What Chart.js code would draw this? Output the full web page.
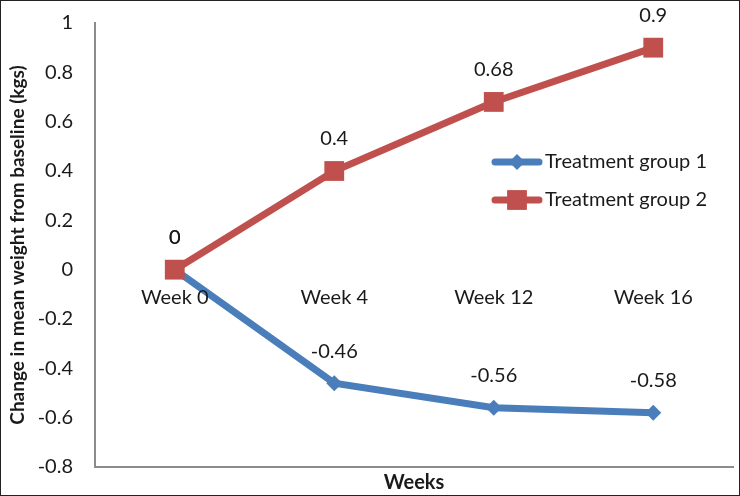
<!DOCTYPE html>
<html>
<head>
<meta charset="utf-8">
<script src="https://cdn.jsdelivr.net/npm/chart.js@4"></script>
<style>
  html, body { margin: 0; padding: 0; background: #fff; }
  #wrap { position: relative; width: 740px; height: 496px; box-sizing: border-box; border: 1px solid #222; }
</style>
</head>
<body>
<div id="wrap"><canvas id="chart"></canvas></div>
<script>
// Chart data
const weeks = ['Week 0', 'Week 4', 'Week 12', 'Week 16'];
const group1 = [0, -0.46, -0.56, -0.58];
const group2 = [0, 0.4, 0.68, 0.9];
const seriesNames = ['Treatment group 1', 'Treatment group 2'];
const yMin = -0.8, yMax = 1, yStep = 0.2;

const BLUE = '#4a7ebb';
const RED = '#c0504d';
const TEXT = '#1a1a1a';
const FONT = 'Lato, "Open Sans", sans-serif';

// Category labels sit just under the zero line, plus value labels and legend
const overlayPlugin = {
  id: 'overlay',
  afterDatasetsDraw(chart) {
    const { ctx, scales: { x, y } } = chart;
    ctx.save();
    ctx.fillStyle = TEXT;
    ctx.font = '20px ' + FONT;
    ctx.textAlign = 'center';
    ctx.textBaseline = 'middle';

    // week labels
    const zeroY = y.getPixelForValue(0);
    weeks.forEach((w, i) => {
      ctx.fillText(w, x.getPixelForValue(i), zeroY + 28);
    });

    // value labels
    chart.data.datasets.forEach((ds, di) => {
      const meta = chart.getDatasetMeta(di);
      meta.data.forEach((pt, i) => {
        ctx.fillText(String(ds.data[i]), pt.x, pt.y - 32);
      });
    });

    // legend
    const items = [
      { name: seriesNames[0], color: BLUE, style: 'rectRot', r: 8, y: 161 },
      { name: seriesNames[1], color: RED, style: 'rect', r: 14, y: 199 },
    ];
    items.forEach((it) => {
      ctx.strokeStyle = it.color;
      ctx.lineWidth = 7;
      ctx.lineCap = 'round';
      ctx.beginPath();
      ctx.moveTo(494, it.y);
      ctx.lineTo(538, it.y);
      ctx.stroke();
      ctx.fillStyle = it.color;
      Chart.helpers.drawPoint(ctx, { pointStyle: it.style, radius: it.r, borderWidth: 0 }, 516, it.y);
      ctx.fillStyle = TEXT;
      ctx.textAlign = 'left';
      ctx.fillText(it.name, 544, it.y);
    });
    ctx.restore();
  },
};

new Chart(document.getElementById('chart'), {
  type: 'line',
  data: {
    labels: weeks,
    datasets: [
      {
        label: seriesNames[0],
        data: group1,
        borderColor: BLUE,
        backgroundColor: BLUE,
        borderWidth: 7,
        pointStyle: 'rectRot',
        pointRadius: 8,
        pointBorderWidth: 0,
        order: 1,
      },
      {
        label: seriesNames[1],
        data: group2,
        borderColor: RED,
        backgroundColor: RED,
        borderWidth: 7,
        pointStyle: 'rect',
        pointRadius: 14,
        pointBorderWidth: 0,
        order: 0,
      },
    ],
  },
  options: {
    responsive: true,
    maintainAspectRatio: false,
    animation: false,
    layout: { autoPadding: false, padding: { top: 22, right: 6, left: 0, bottom: 0 } },
    plugins: { legend: { display: false }, tooltip: { enabled: false } },
    scales: {
      x: {
        offset: true,
        grid: { display: false, drawTicks: false },
        border: { color: '#8c8c8c', width: 2 },
        ticks: { display: false },
        title: {
          display: true,
          text: 'Weeks',
          color: TEXT,
          font: { family: FONT, size: 20, weight: 'bold' },
          padding: { top: 4, bottom: 0 },
        },
        afterFit: (s) => { s.height = 28; },
      },
      y: {
        min: yMin,
        max: yMax,
        grid: { display: false, drawTicks: false },
        border: { color: '#8c8c8c', width: 2 },
        ticks: {
          stepSize: yStep,
          padding: 22,
          color: TEXT,
          font: { family: FONT, size: 20 },
          callback: (v) => String(Math.round(v * 10) / 10),
        },
        title: {
          display: true,
          text: 'Change in mean weight from baseline (kgs)',
          color: TEXT,
          font: { family: FONT, size: 19, weight: 'bold' },
          padding: { top: 5, bottom: 0 },
        },
        afterFit: (s) => {
          s.width = 94;
          s.paddingTop = 0;
          s.paddingBottom = 0;
        },
      },
    },
  },
  plugins: [overlayPlugin],
});
</script>
</body>
</html>
